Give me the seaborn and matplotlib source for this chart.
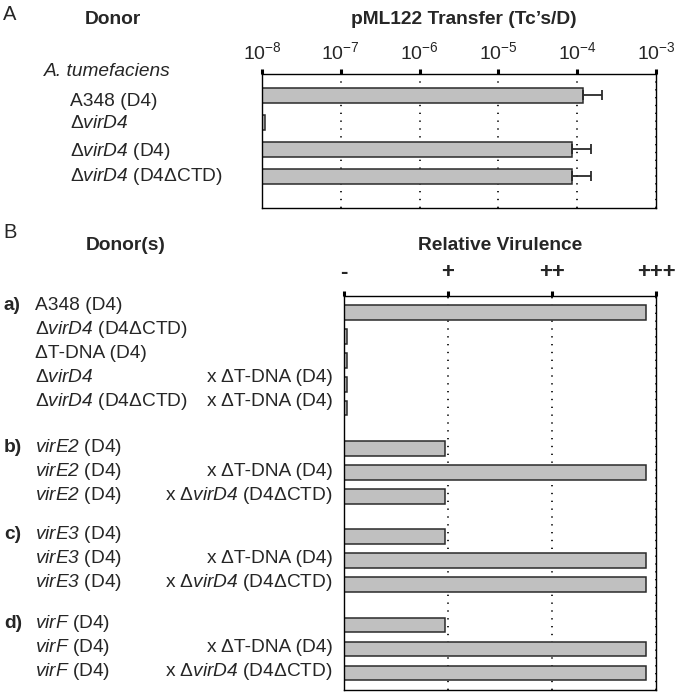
# Conjugal transfer of pML122 (panel A) and relative virulence of donor mixes (panel B)

import numpy as np
import pandas as pd
import matplotlib
matplotlib.use('Agg')
import matplotlib.pyplot as plt
import matplotlib.transforms as mtrans
from matplotlib.ticker import NullLocator
import seaborn as sns

# ==============================================
# Data, panel A  (\mathsf is mapped to the italic face below, so gene names are fully italic)
donors_a = ['A348 (D4)', r'Δ$\mathsf{virD4}$', r'Δ$\mathsf{virD4}$ (D4)', r'Δ$\mathsf{virD4}$ (D4ΔCTD)']
transfer = [1.19e-4, 1.1e-8, 8.6e-5, 8.6e-5]
transfer_err = [8.8e-5, 0.0, 6.4e-5, 6.4e-5]
transfer_ticks = [1e-8, 1e-7, 1e-6, 1e-5, 1e-4, 1e-3]
transfer_ticklabels = ['10$^{-8}$', '10$^{-7}$', '10$^{-6}$', '10$^{-5}$', '10$^{-4}$', '10$^{-3}$']

# Data, panel B
group = ['a)'] * 5 + ['b)'] * 3 + ['c)'] * 3 + ['d)'] * 3
donor1 = ['A348 (D4)', r'Δ$\mathsf{virD4}$ (D4ΔCTD)', 'ΔT-DNA (D4)', r'Δ$\mathsf{virD4}$',
          r'Δ$\mathsf{virD4}$ (D4ΔCTD)',
          r'$\mathsf{virE2}$ (D4)', r'$\mathsf{virE2}$ (D4)', r'$\mathsf{virE2}$ (D4)',
          r'$\mathsf{virE3}$ (D4)', r'$\mathsf{virE3}$ (D4)', r'$\mathsf{virE3}$ (D4)',
          r'$\mathsf{virF}$ (D4)', r'$\mathsf{virF}$ (D4)', r'$\mathsf{virF}$ (D4)']
donor2 = ['', '', '', 'x ΔT-DNA (D4)', 'x ΔT-DNA (D4)',
          '', 'x ΔT-DNA (D4)', r'x Δ$\mathsf{virD4}$ (D4ΔCTD)',
          '', 'x ΔT-DNA (D4)', r'x Δ$\mathsf{virD4}$ (D4ΔCTD)',
          '', 'x ΔT-DNA (D4)', r'x Δ$\mathsf{virD4}$ (D4ΔCTD)']
virulence = [2.9, 0.03, 0.03, 0.03, 0.03,
             0.97, 2.9, 0.97,
             0.97, 2.9, 2.9,
             0.97, 2.9, 2.9]
virulence_ticks = [0, 1, 2, 3]
virulence_ticklabels = ['-', '+', '++', '+++']

# ==============================================
# Style
sns.set_style('white')
plt.rcParams['font.family'] = ['Liberation Sans', 'DejaVu Sans']
plt.rcParams['mathtext.fontset'] = 'custom'
plt.rcParams['mathtext.rm'] = 'Liberation Sans'
plt.rcParams['mathtext.it'] = 'Liberation Sans:italic'
plt.rcParams['mathtext.sf'] = 'Liberation Sans:italic'
plt.rcParams['mathtext.bf'] = 'Liberation Sans:bold'

W, H = 680, 693
fs = 13.8
bar_kw = dict(color='#c0c0c0', edgecolor='#2a2a2a', linewidth=1.1, saturation=1, errorbar=None)
dots = (0, (0.8, 3.9))


def fx(p):
    return p / W


def fy(p):
    return 1 - p / H


def style_axis(ax):
    ax.xaxis.tick_top()
    ax.xaxis.set_minor_locator(NullLocator())
    ax.tick_params(axis='x', which='major', direction='out', length=3.6, width=2.2,
                   color='black', top=True, bottom=False, labeltop=True, labelbottom=False)
    ax.tick_params(axis='y', left=False, labelleft=False)
    ax.set_xlabel('')
    ax.set_ylabel('')
    ax.grid(axis='x', color='black', linestyle=dots, linewidth=1.2)
    ax.grid(axis='y', visible=False)
    ax.set_axisbelow(True)
    for s in ax.spines.values():
        s.set_visible(True)
        s.set_color('black')
        s.set_linewidth(1.0)


fig = plt.figure(figsize=(W / 100, H / 100), dpi=100)

# ==============================================
# Panel A
axa = fig.add_axes([fx(262), fy(208), (656 - 262) / W, (208 - 74) / H])
df_a = pd.DataFrame({'donor': donors_a, 'transfer': transfer})
sns.barplot(data=df_a, x='transfer', y='donor', orient='h', width=0.55, ax=axa, **bar_kw)
rows = np.arange(len(donors_a))
err = np.array(transfer_err)
has_err = err > 0
axa.errorbar(np.array(transfer)[has_err], rows[has_err],
             xerr=[np.zeros(has_err.sum()), err[has_err]],
             fmt='none', ecolor='#2a2a2a', elinewidth=1.3, capsize=3.6, capthick=1.3, zorder=3)
axa.set_xscale('log')
axa.set_xlim(1e-8, 1e-3)
axa.set_ylim(4.167, -0.796)
axa.set_xticks(transfer_ticks)
axa.set_xticklabels(transfer_ticklabels, fontsize=14)
style_axis(axa)
axa.tick_params(axis='x', pad=4.5)

ta = mtrans.blended_transform_factory(fig.transFigure, axa.transData)
nudge_a = [0.24, 0.04, 0.07, 0.0]
for i, lab in enumerate(donors_a):
    axa.text(fx(70), i + nudge_a[i], lab, transform=ta, fontsize=fs, ha='left', va='center')
axa.text(fx(44), -0.9, 'A. tumefaciens', transform=ta, fontsize=fs, style='italic',
         ha='left', va='center')

fig.text(fx(10), fy(15), 'A', fontsize=14.5, ha='center', va='center')
fig.text(fx(113), fy(19), 'Donor', fontsize=fs, fontweight='bold', ha='center', va='center')
fig.text(fx(464), fy(19), 'pML122 Transfer (Tc’s/D)', fontsize=fs, fontweight='bold',
         ha='center', va='center')

# ==============================================
# Panel B: rows in groups separated by a gap
gap = 1.68
pos = []
start = 0.0
for g in pd.unique(pd.Series(group)):
    n = group.count(g)
    pos.extend(start + np.arange(n))
    start += n - 1 + gap
pos = np.round(pos, 2)

axb = fig.add_axes([fx(344), fy(690), (656 - 344) / W, (690 - 296) / H])
df_b = pd.DataFrame({'pos': pos, 'virulence': virulence, 'group': group,
                     'donor1': donor1, 'donor2': donor2})
sns.barplot(data=df_b, x='virulence', y='pos', orient='h', native_scale=True,
            width=0.62, ax=axb, **bar_kw)
axb.set_xlim(0, 3)
axb.set_ylim(15.75, -0.67)
axb.set_xticks(virulence_ticks)
axb.set_xticklabels(virulence_ticklabels, fontsize=16, fontweight='bold')
style_axis(axb)
axb.tick_params(axis='x', pad=5.5)

tb = mtrans.blended_transform_factory(fig.transFigure, axb.transData)
nudge_b = {'a)': -0.27, 'b)': -0.05, 'c)': -0.08, 'd)': -0.07}
seen = set()
for _, r in df_b.iterrows():
    y = r['pos'] + nudge_b[r['group']]
    if r['group'] not in seen:
        seen.add(r['group'])
        axb.text(fx(4), y, r['group'], transform=tb, fontsize=fs, fontweight='bold',
                 ha='left', va='center')
    axb.text(fx(35), y, r['donor1'], transform=tb, fontsize=fs, ha='left', va='center')
    if r['donor2']:
        axb.text(fx(333), y, r['donor2'], transform=tb, fontsize=fs, ha='right', va='center')

fig.text(fx(10), fy(232), 'B', fontsize=14.5, ha='center', va='center')
fig.text(fx(126), fy(245), 'Donor(s)', fontsize=fs, fontweight='bold', ha='center', va='center')
fig.text(fx(500), fy(245), 'Relative Virulence', fontsize=fs, fontweight='bold',
         ha='center', va='center')

fig.savefig('out.png', dpi=100)
